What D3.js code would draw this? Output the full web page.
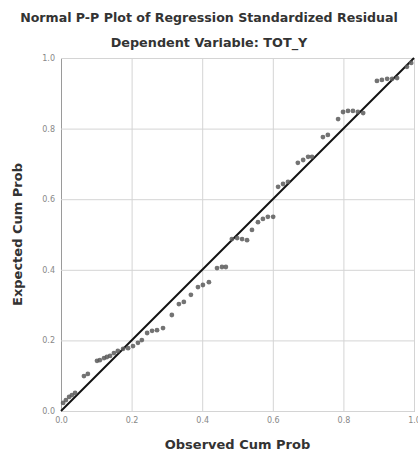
<!DOCTYPE html>
<html>
<head>
<meta charset="utf-8">
<script src="https://cdn.jsdelivr.net/npm/d3@7"></script>
<style>
  body { margin: 0; background: #fff; }
  text { font-family: "DejaVu Sans", Verdana, sans-serif; }
</style>
</head>
<body>
<div id="chart"></div>
<script>
const titleText = "Normal P-P Plot of Regression Standardized Residual";
const subtitleText = "Dependent Variable: TOT_Y";
const xLabel = "Observed Cum Prob";
const yLabel = "Expected Cum Prob";
const tickValues = [0, 0.2, 0.4, 0.6, 0.8, 1.0];

// observed cumulative probability (x) and expected cumulative probability (y)
const observed = [0.006, 0.014, 0.023, 0.031, 0.040, 0.065, 0.076, 0.102, 0.110, 0.122,
    0.130, 0.139, 0.150, 0.161, 0.176, 0.190, 0.204, 0.218, 0.229, 0.244,
    0.258, 0.272, 0.289, 0.314, 0.334, 0.348, 0.368, 0.388, 0.402, 0.419,
    0.442, 0.456, 0.467, 0.484, 0.499, 0.513, 0.527, 0.541, 0.558, 0.572,
    0.586, 0.601, 0.615, 0.629, 0.643, 0.671, 0.686, 0.700, 0.711, 0.742,
    0.756, 0.785, 0.799, 0.813, 0.827, 0.841, 0.856, 0.895, 0.909, 0.924,
    0.938, 0.952, 0.980, 0.992];
const expected = [0.023, 0.031, 0.040, 0.045, 0.051, 0.099, 0.105, 0.142, 0.144, 0.150,
    0.153, 0.156, 0.164, 0.170, 0.176, 0.178, 0.184, 0.193, 0.201, 0.221,
    0.227, 0.229, 0.235, 0.272, 0.303, 0.309, 0.329, 0.351, 0.357, 0.365,
    0.405, 0.408, 0.408, 0.487, 0.490, 0.487, 0.484, 0.513, 0.535, 0.544,
    0.550, 0.550, 0.635, 0.643, 0.649, 0.703, 0.711, 0.720, 0.720, 0.776,
    0.782, 0.827, 0.847, 0.850, 0.850, 0.847, 0.844, 0.935, 0.938, 0.941,
    0.941, 0.943, 0.975, 0.986];

const margin = {top: 58, right: 4, bottom: 48, left: 61},
    width = 418 - margin.left - margin.right,
    height = 459 - margin.top - margin.bottom;

const root = d3.select("#chart").append("svg")
    .attr("width", 418)
    .attr("height", 459);

const svg = root.append("g")
    .attr("transform", `translate(${margin.left},${margin.top})`);

const x = d3.scaleLinear().domain([0, 1]).range([0, width]);
const y = d3.scaleLinear().domain([0, 1]).range([height, 0]);

// titles
root.append("text")
    .attr("x", 209).attr("y", 22)
    .attr("text-anchor", "middle")
    .style("font-size", "12.6px").style("font-weight", "bold").style("fill", "#333")
    .text(titleText);

root.append("text")
    .attr("x", 209).attr("y", 47)
    .attr("text-anchor", "middle")
    .style("font-size", "12.8px").style("font-weight", "bold").style("fill", "#333")
    .text(subtitleText);

// gridlines + axes
const xAxis = svg.append("g")
    .attr("transform", `translate(0,${height})`)
    .call(d3.axisBottom(x).tickValues(tickValues).tickFormat(d3.format(".1f"))
        .tickSize(-height).tickSizeOuter(0).tickPadding(6));

const yAxis = svg.append("g")
    .call(d3.axisLeft(y).tickValues(tickValues).tickFormat(d3.format(".1f"))
        .tickSize(-width).tickSizeOuter(0).tickPadding(6));

[xAxis, yAxis].forEach(a => {
    a.selectAll(".tick line").attr("stroke", "#d4d4d4");
    a.select(".domain").attr("stroke", "#9a9a9a");
    a.selectAll("text").style("font-size", "8px").style("fill", "#888");
});

// reference line
svg.append("line")
    .attr("x1", x(0)).attr("y1", y(0))
    .attr("x2", x(1)).attr("y2", y(1))
    .attr("stroke", "#111")
    .attr("stroke-width", 2);

// points
svg.selectAll(".pt")
    .data(observed.map((d, i) => ({o: d, e: expected[i]})))
    .enter().append("circle")
    .attr("class", "pt")
    .attr("cx", d => x(d.o))
    .attr("cy", d => y(d.e))
    .attr("r", 2.4)
    .attr("fill", "#5a5a5a")
    .attr("fill-opacity", 0.85);

// axis titles
root.append("text")
    .attr("x", margin.left + width / 2).attr("y", 449)
    .attr("text-anchor", "middle")
    .style("font-size", "13px").style("font-weight", "bold").style("fill", "#333")
    .text(xLabel);

root.append("text")
    .attr("transform", "rotate(-90)")
    .attr("x", -(margin.top + height / 2)).attr("y", 22)
    .attr("text-anchor", "middle")
    .style("font-size", "13px").style("font-weight", "bold").style("fill", "#333")
    .text(yLabel);
</script>
</body>
</html>
